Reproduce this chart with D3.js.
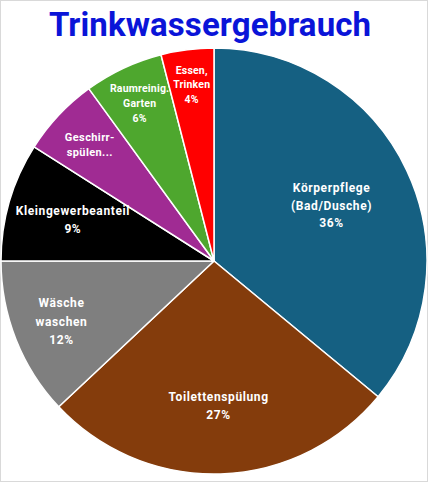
<!DOCTYPE html>
<html>
<head>
<meta charset="utf-8">
<script src="https://cdn.jsdelivr.net/npm/d3@7"></script>
<style>
  body { margin: 0; background: #fff; }
  svg { display: block; font-family: Roboto, "Liberation Sans", sans-serif; }
</style>
</head>
<body>
<svg id="chart"></svg>
<script>
// Daten
const kategorien = ["Körperpflege (Bad/Dusche)", "Toilettenspülung", "Wäsche waschen",
  "Kleingewerbeanteil", "Geschirrspülen", "Raumreinig. Garten", "Essen, Trinken"];
const anteile = [36, 27, 12, 9, 6, 6, 4];
const beschriftung = [
  ["Körperpflege", "(Bad/Dusche)", "36%"],
  ["Toilettenspülung", "27%"],
  ["Wäsche", "waschen", "12%"],
  ["Kleingewerbeanteil", "9%"],
  ["Geschirr-", "spülen..."],
  ["Raumreinig.", "Garten", "6%"],
  ["Essen,", "Trinken", "4%"]
];

// Layout / Stil
const farben = ["#156082", "#843c0c", "#7f7f7f", "#000000", "#a02b93", "#4ea72e", "#ff0000"];
const labelRadius = [0.61, 0.68, 0.77, 0.69, 0.80, 0.82, 0.835];
const labelSize = [12, 12, 12, 12, 11, 10.5, 10.5];
const labelSpacing = [0.6, 0.6, 0.6, 0.6, 0.4, 0.2, 0.2];
const labelLine = [17.5, 18, 18.5, 18, 15, 15, 14.5];

const width = 428, height = 482;
const cx = 214, cy = 261, r = 213;

const svg = d3.select("#chart")
  .attr("width", width)
  .attr("height", height);

svg.append("rect")
  .attr("x", 0.5).attr("y", 0.5)
  .attr("width", width - 1).attr("height", height - 1)
  .attr("fill", "#fff")
  .attr("stroke", "#d9d9d9");

svg.append("text")
  .attr("x", 210)
  .attr("y", 36)
  .attr("text-anchor", "middle")
  .attr("font-size", 33)
  .attr("font-weight", "bold")
  .attr("letter-spacing", 0.1)
  .attr("fill", "#0a14d8")
  .text("Trinkwassergebrauch");

const data = kategorien.map((k, i) => ({ name: k, wert: anteile[i], zeilen: beschriftung[i], i: i }));

const pie = d3.pie().value(d => d.wert).sort(null);
const arc = d3.arc().innerRadius(0).outerRadius(r);

const g = svg.append("g")
  .attr("transform", "translate(" + cx + "," + cy + ")");

const slices = pie(data);

g.selectAll("path")
  .data(slices)
  .enter().append("path")
  .attr("d", arc)
  .attr("fill", d => farben[d.data.i])
  .attr("stroke", "#fff")
  .attr("stroke-width", 1.5)
  .attr("stroke-linejoin", "round");

const labels = g.selectAll(".label")
  .data(slices)
  .enter().append("text")
  .attr("class", "label")
  .attr("text-anchor", "middle")
  .attr("fill", "#fff")
  .attr("font-weight", "bold")
  .attr("font-size", d => labelSize[d.data.i])
  .attr("letter-spacing", d => labelSpacing[d.data.i])
  .attr("transform", d => {
    const a = (d.startAngle + d.endAngle) / 2;
    const rr = r * labelRadius[d.data.i];
    return "translate(" + (Math.sin(a) * rr) + "," + (-Math.cos(a) * rr) + ")";
  });

labels.each(function(d) {
  const n = d.data.zeilen.length;
  const lh = labelLine[d.data.i];
  d3.select(this).selectAll("tspan")
    .data(d.data.zeilen)
    .enter().append("tspan")
    .attr("x", 0)
    .attr("y", (s, j) => (j - (n - 1) / 2) * lh)
    .attr("dy", "0.35em")
    .text(s => s);
});
</script>
</body>
</html>
